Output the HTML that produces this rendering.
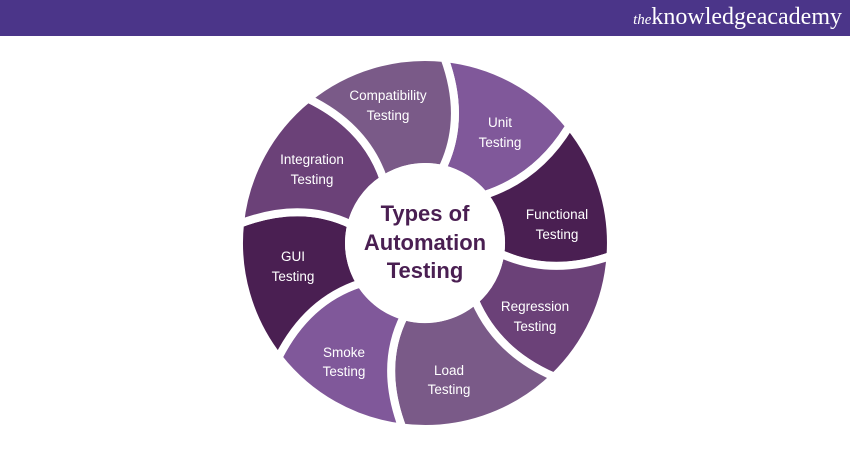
<!DOCTYPE html>
<html><head><meta charset="utf-8"><style>
html,body{margin:0;padding:0;background:#fff;width:850px;height:450px;overflow:hidden}
.hdr{position:absolute;left:0;top:0;width:850px;height:36px;background:#4b3589}
.logo{position:absolute;right:8px;top:4px;color:#fff;font-family:"Liberation Serif",serif;font-size:24px;letter-spacing:0px}
.logo i{font-size:15px}
svg{position:absolute;left:0;top:0}
</style></head><body>
<div class="hdr"></div>
<div class="logo"><i>the</i>knowledgeacademy</div>
<svg id="s" width="850" height="450" xmlns="http://www.w3.org/2000/svg">
<g id="g"></g>
<circle cx="425" cy="243" r="80" fill="#fff"/>
<g font-family="Liberation Sans, sans-serif" font-weight="bold" font-size="22" fill="#4a1f52" text-anchor="middle">
<text x="425" y="221">Types of</text>
<text x="425" y="250">Automation</text>
<text x="425" y="278">Testing</text>
</g>
<g font-family="Liberation Sans, sans-serif" font-size="13.5" fill="#fff" text-anchor="middle">
<text x="388" y="100">Compatibility</text><text x="388" y="120">Testing</text>
<text x="500" y="127">Unit</text><text x="500" y="147">Testing</text>
<text x="557" y="219">Functional</text><text x="557" y="239">Testing</text>
<text x="535" y="311">Regression</text><text x="535" y="331">Testing</text>
<text x="449" y="375">Load</text><text x="449" y="394">Testing</text>
<text x="344" y="357">Smoke</text><text x="344" y="376">Testing</text>
<text x="293" y="261">GUI</text><text x="293" y="281">Testing</text>
<text x="312" y="164">Integration</text><text x="312" y="184">Testing</text>
</g>
</svg>
<script>
var cx=425,cy=243,R=186,r=76;
var b=[[-77,-84],[-39,-39],[8,4],[49,46],[106,97],[148,142],[194,186],[237,231]];
var cols=["#80589a","#4a1f52","#6b4178","#7a5a88","#80589a","#4a1f52","#6b4178","#7a5a88"];
function P(rad,deg){var a=deg*Math.PI/180;return [cx+rad*Math.cos(a),cy+rad*Math.sin(a)];}
function f(p){return p[0].toFixed(1)+" "+p[1].toFixed(1);}
var g=document.getElementById("g"),h="";
for(var i=0;i<8;i++){
 var a=b[i],n=b[(i+1)%8];
 var ai=a[0],ao=a[1],ni=n[0],no=n[1];
 if(ni<ai)ni+=360; if(no<ao)no+=360;
 var c1=P((R+r)/2,(ai+ao)/2+9), c2=P((R+r)/2,(ni+no)/2+9);
 var d="M"+f(P(r,ai))+" A"+r+" "+r+" 0 0 1 "+f(P(r,ni))+" Q"+f(c2)+" "+f(P(R,no))+
  " A"+R+" "+R+" 0 0 0 "+f(P(R,ao))+" Q"+f(c1)+" "+f(P(r,ai))+"Z";
 h+='<path d="'+d+'" fill="'+cols[i]+'" stroke="#fff" stroke-width="8" stroke-linejoin="round"/>';
}
g.innerHTML=h;
</script>
</body></html>
